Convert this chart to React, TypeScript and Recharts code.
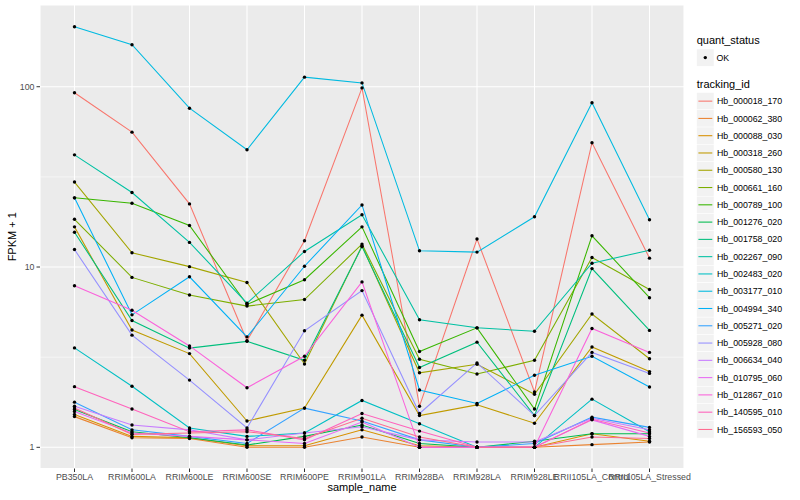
import React from "react";
import { ComposedChart, Line, XAxis, YAxis, CartesianGrid, Label } from "recharts";

const FONT = '"Liberation Sans", Arial, Helvetica, sans-serif';

const samples = [
  "PB350LA",
  "RRIM600LA",
  "RRIM600LE",
  "RRIM600SE",
  "RRIM600PE",
  "RRIM901LA",
  "RRIM928BA",
  "RRIM928LA",
  "RRIM928LE",
  "RRII105LA_Control",
  "RRII105LA_Stressed",
];

const trackingIds = [
  "Hb_000018_170",
  "Hb_000062_380",
  "Hb_000088_030",
  "Hb_000318_260",
  "Hb_000580_130",
  "Hb_000661_160",
  "Hb_000789_100",
  "Hb_001276_020",
  "Hb_001758_020",
  "Hb_002267_090",
  "Hb_002483_020",
  "Hb_003177_010",
  "Hb_004994_340",
  "Hb_005271_020",
  "Hb_005928_080",
  "Hb_006634_040",
  "Hb_010795_060",
  "Hb_012867_010",
  "Hb_140595_010",
  "Hb_156593_050",
];

// ggplot default hue palette for 20 levels
const colors = [
  "#F8766D", "#EA8331", "#D89000", "#C09B00", "#A3A500",
  "#7CAE00", "#39B600", "#00BB4E", "#00BF7D", "#00C1A3",
  "#00BFC4", "#00BAE0", "#00B0F6", "#35A2FF", "#9590FF",
  "#C77CFF", "#E76BF3", "#FA62DB", "#FF62BC", "#FF6C91",
];

// FPKM + 1, one value per sample
const hb000018 = [92.6, 56, 22.4, 3.9, 14, 98.5, 1.69, 14.3, 2.03, 48.9, 11.2];
const hb000062 = [1.48, 1.13, 1.12, 1.0, 1.0, 1.14, 1.0, 1.0, 1.0, 1.035, 1.07];
const hb000088 = [1.52, 1.15, 1.13, 1.02, 1.02, 1.25, 1.02, 1.0, 1.0, 1.19, 1.08];
const hb000318 = [16.7, 4.47, 3.31, 1.4, 1.65, 5.41, 1.5, 1.72, 1.36, 3.6, 2.63];
const hb000580 = [29.6, 12.0, 10.05, 8.2, 2.9, 13.1, 2.59, 2.89, 1.97, 5.49, 3.1];
const hb000661 = [18.4, 8.76, 6.99, 6.07, 6.6, 13.4, 3.08, 2.55, 3.04, 11.3, 7.5];
const hb000789 = [24.2, 22.6, 17.0, 6.2, 8.5, 16.7, 3.4, 4.6, 1.63, 14.9, 6.76];
const hb001276 = [1.62, 1.22, 1.13, 1.03, 1.15, 1.33, 1.05, 1.0, 1.08, 1.19, 1.19];
const hb001758 = [15.6, 5.05, 3.55, 3.87, 3.04, 13.0, 2.77, 3.83, 1.5, 9.8, 4.45];
const hb002267 = [41.9, 25.9, 13.7, 6.3, 12.2, 19.5, 5.1, 4.6, 4.4, 10.5, 12.4];
const hb002483 = [3.56, 2.18, 1.28, 1.15, 1.2, 1.82, 1.35, 1.0, 1.0, 1.85, 1.22];
const hb003177 = [215, 171, 76, 44.7, 113, 105, 12.3, 12.1, 19, 81.5, 18.3];
const hb004994 = [24.2, 5.43, 8.83, 4.1, 10.1, 22.1, 2.08, 1.75, 2.51, 3.2, 2.16];
const hb005271 = [1.78, 1.25, 1.15, 1.05, 1.65, 1.4, 1.1, 1.0, 1.05, 1.47, 1.29];
const hb005928 = [12.5, 4.19, 2.36, 1.28, 4.43, 7.4, 1.54, 2.94, 1.5, 3.36, 2.57];
const hb006634 = [1.69, 1.33, 1.25, 1.1, 1.2, 1.3, 1.1, 1.07, 1.07, 1.45, 1.25];
const hb010795 = [1.58, 1.2, 1.15, 1.1, 1.05, 1.38, 1.0, 1.0, 1.0, 1.42, 1.15];
const hb012867 = [7.87, 5.76, 3.65, 2.14, 3.2, 8.27, 1.0, 1.0, 1.0, 4.56, 3.36];
const hb140595 = [2.17, 1.63, 1.22, 1.25, 1.1, 1.54, 1.23, 1.0, 1.0, 1.43, 1.2];
const hb156593 = [1.65, 1.18, 1.2, 1.22, 1.12, 1.45, 1.14, 1.0, 1.0, 1.14, 1.12];

const series = [
  hb000018, hb000062, hb000088, hb000318, hb000580,
  hb000661, hb000789, hb001276, hb001758, hb002267,
  hb002483, hb003177, hb004994, hb005271, hb005928,
  hb006634, hb010795, hb012867, hb140595, hb156593,
];

const yTicks = [1, 10, 100];
const yMinor = [3.162, 31.62];
const yDomain = [0.763, 284];
const xTicks = samples.map((_, i) => i);

const data = samples.map((name, i) => {
  const row: Record<string, number | string> = { x: i, name };
  series.forEach((vals, k) => {
    row[`s${k}`] = vals[i];
  });
  return row;
});

function LegendPanel() {
  const rowH = 17.28;
  const top = 92.5;
  return (
    <svg
      width={110}
      height={500}
      style={{ position: "absolute", left: 690, top: 0, fontFamily: FONT }}
    >
      <text x={6.7} y={44} fontSize={11} fill="#000">
        quant_status
      </text>
      <rect x={6.7} y={49} width={17.28} height={17.28} fill="#F2F2F2" stroke="#fff" strokeWidth={0.5} />
      <circle cx={15.3} cy={57.6} r={1.7} fill="#000" />
      <text x={26.5} y={60.8} fontSize={8.8} fill="#000">
        OK
      </text>
      <text x={6.7} y={87.5} fontSize={11} fill="#000">
        tracking_id
      </text>
      {trackingIds.map((id, i) => {
        const y = top + i * rowH;
        return (
          <g key={id}>
            <rect x={6.7} y={y} width={17.28} height={rowH} fill="#F2F2F2" stroke="#fff" strokeWidth={0.5} />
            <line x1={8.4} x2={22.3} y1={y + rowH / 2} y2={y + rowH / 2} stroke={colors[i]} strokeWidth={1.07} />
            <text x={27} y={y + rowH / 2 + 3.1} fontSize={8.8} fill="#000">
              {id}
            </text>
          </g>
        );
      })}
    </svg>
  );
}

export default function App() {
  return (
    <div
      style={{
        position: "absolute",
        left: 0,
        top: 0,
        width: 800,
        height: 500,
        background: "#fff",
        fontFamily: FONT,
      }}
    >
      <ComposedChart
        width={800}
        height={500}
        data={data}
        margin={{ top: 5, right: 116, bottom: 0, left: 0 }}
      >
        <CartesianGrid
          fill="#EBEBEB"
          stroke="#FFFFFF"
          strokeWidth={0.53}
          vertical={false}
          horizontalValues={yMinor}
        />
        <CartesianGrid stroke="#FFFFFF" strokeWidth={1.07} />
        <XAxis
          dataKey="x"
          type="number"
          domain={[-0.6, 10.6]}
          ticks={xTicks}
          interval={0}
          tickFormatter={(i) => samples[i]}
          height={31.5}
          tickSize={3.5}
          tickMargin={1.5}
          axisLine={false}
          tickLine={{ stroke: "#333333" }}
          tick={{ fill: "#4D4D4D", fontSize: 8.8 }}
        >
          <Label value="sample_name" position="insideBottom" offset={9} style={{ fontSize: 11, fill: "#000" }} />
        </XAxis>
        <YAxis
          type="number"
          scale="log"
          domain={yDomain}
          allowDataOverflow
          ticks={yTicks}
          width={40}
          tickSize={3.5}
          tickMargin={2}
          axisLine={false}
          tickLine={{ stroke: "#333333" }}
          tick={{ fill: "#4D4D4D", fontSize: 8.8 }}
        >
          <Label
            value="FPKM + 1"
            angle={-90}
            position="insideLeft"
            offset={12}
            style={{ fontSize: 11, fill: "#000", textAnchor: "middle" }}
          />
        </YAxis>
        {series.map((_, k) => (
          <Line
            key={`l${k}`}
            dataKey={`s${k}`}
            type="linear"
            stroke={colors[k]}
            strokeWidth={1.07}
            dot={false}
            activeDot={false}
            isAnimationActive={false}
          />
        ))}
        {series.map((_, k) => (
          <Line
            key={`p${k}`}
            dataKey={`s${k}`}
            type="linear"
            stroke="none"
            dot={{ r: 1.7, fill: "#000", stroke: "none" }}
            activeDot={false}
            isAnimationActive={false}
          />
        ))}
      </ComposedChart>
      <LegendPanel />
    </div>
  );
}
